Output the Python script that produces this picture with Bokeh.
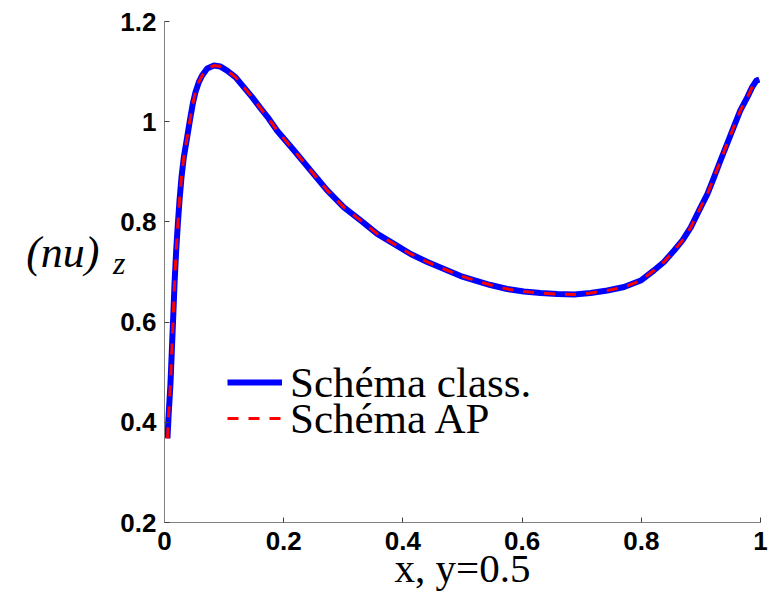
from bokeh.plotting import figure
from bokeh.models import Legend, LegendItem, LinearAxis, FixedTicker
from bokeh.embed import file_html
from bokeh.resources import INLINE

# data
x_vals = [0.005, 0.0067, 0.010, 0.0123, 0.0146, 0.0168, 0.0196, 0.0224, 0.0252, 0.0285,
          0.0324, 0.038, 0.0425, 0.0475, 0.052, 0.0576, 0.063, 0.0716, 0.083, 0.094,
          0.105, 0.119, 0.133, 0.147, 0.161, 0.175, 0.189, 0.217, 0.245, 0.273,
          0.301, 0.329, 0.357, 0.385, 0.413, 0.441, 0.469, 0.497, 0.519, 0.547,
          0.575, 0.603, 0.631, 0.659, 0.687, 0.715, 0.743, 0.771, 0.799, 0.821,
          0.838, 0.855, 0.869, 0.883, 0.897, 0.911, 0.922, 0.933, 0.944, 0.955,
          0.966, 0.978, 0.986, 0.993, 0.998]
y_class = [0.368, 0.410, 0.477, 0.543, 0.610, 0.676, 0.743, 0.796, 0.843, 0.889,
           0.929, 0.969, 1.002, 1.036, 1.059, 1.079, 1.092, 1.106, 1.112, 1.110,
           1.102, 1.089, 1.069, 1.049, 1.027, 1.006, 0.982, 0.943, 0.903, 0.863,
           0.829, 0.803, 0.776, 0.756, 0.736, 0.720, 0.706, 0.692, 0.684, 0.674,
           0.666, 0.661, 0.658, 0.656, 0.655, 0.658, 0.663, 0.670, 0.683, 0.703,
           0.720, 0.743, 0.763, 0.789, 0.823, 0.856, 0.889, 0.923, 0.956, 0.989,
           1.022, 1.049, 1.069, 1.082, 1.084]
y_ap = list(y_class)

x_ticks = [0, 0.2, 0.4, 0.6, 0.8, 1]
x_tick_labels = ["0", "0.2", "0.4", "0.6", "0.8", "1"]
y_ticks = [0.2, 0.4, 0.6, 0.8, 1.0, 1.2]
y_tick_labels = ["0.2", "0.4", "0.6", "0.8", "1", "1.2"]

series_names = ["Schéma class.", "Schéma AP"]
x_title = "x, y=0.5"
y_title_main = "(nu)"
y_title_sub = "z"

p = figure(width=769, height=602, x_range=(0, 1), y_range=(0.2, 1.2),
           output_backend="svg", toolbar_location=None,
           min_border_left=164, min_border_right=9, min_border_top=21, min_border_bottom=80)
p.outline_line_color = None
p.xgrid.visible = False
p.ygrid.visible = False
p.background_fill_color = "white"
p.border_fill_color = "white"

for ax, ticks, labels in ((p.xaxis[0], x_ticks, x_tick_labels), (p.yaxis[0], y_ticks, y_tick_labels)):
    ax.ticker = FixedTicker(ticks=ticks)
    ax.major_label_overrides = {t: l for t, l in zip(ticks, labels)}
    ax.minor_tick_line_color = None
    ax.major_tick_in = 5
    ax.major_tick_out = 0
    ax.axis_line_color = "#808080"
    ax.axis_line_width = 1
    ax.major_tick_line_color = "#404040"
    ax.major_label_text_font = "Liberation Sans"
    ax.major_label_text_font_style = "bold"
    ax.major_label_text_font_size = "26px"
    ax.major_label_text_color = "black"
p.xaxis.major_label_standoff = 9
p.yaxis.major_label_standoff = 8

# x-axis title
p.xaxis.axis_label = x_title
p.xaxis.axis_label_text_font = "Liberation Serif"
p.xaxis.axis_label_text_font_style = "normal"
p.xaxis.axis_label_text_font_size = "41px"
p.xaxis.axis_label_text_color = "black"
p.xaxis.axis_label_standoff = -8

# y-axis title: subscript on the main axis, (nu) on an outer bare axis
yax = p.yaxis[0]
yax.axis_label = y_title_sub + "\n"
yax.axis_label_orientation = "horizontal"
yax.axis_label_text_font = "Liberation Serif"
yax.axis_label_text_font_style = "italic"
yax.axis_label_text_font_size = "32px"
yax.axis_label_text_line_height = 0.5
yax.axis_label_text_color = "black"
yax.axis_label_standoff = -8

outer = LinearAxis(ticker=FixedTicker(ticks=[]), axis_line_color=None,
                   major_tick_line_color=None, minor_tick_line_color=None,
                   major_label_text_font_size="0px",
                   axis_label=y_title_main + "\n", axis_label_orientation="horizontal",
                   axis_label_text_font="Liberation Serif", axis_label_text_font_style="italic",
                   axis_label_text_font_size="44px", axis_label_text_color="black",
                   axis_label_text_line_height=0.8,
                   axis_label_standoff=10)
p.add_layout(outer, "left")

r1 = p.line(x_vals, y_class, line_color="blue", line_width=6, line_join="round")
r2 = p.line(x_vals, y_ap, line_color="red", line_width=3, line_dash="11 10")

for item, bottom in ((LegendItem(label=series_names[0], renderers=[r1]), 115),
                     (LegendItem(label=series_names[1], renderers=[r2]), 79)):
    lg = Legend(items=[item], location=(63, bottom))
    lg.border_line_color = None
    lg.background_fill_alpha = 0
    lg.label_text_font = "Liberation Serif"
    lg.label_text_font_size = "43px"
    lg.label_text_color = "black"
    lg.glyph_width = 55
    lg.glyph_height = 50
    lg.label_height = 50
    lg.label_standoff = 8
    lg.spacing = 0
    lg.padding = 0
    lg.margin = 0
    p.add_layout(lg)

open("out.html", "w").write(file_html(p, INLINE))
